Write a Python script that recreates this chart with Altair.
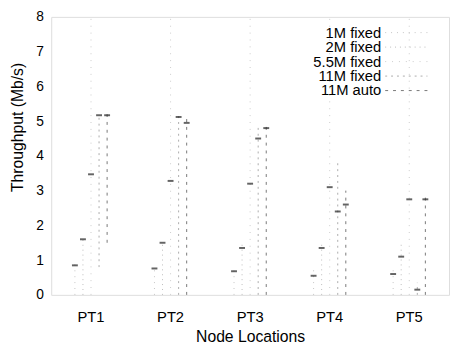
import altair as alt
import pandas as pd

locations = ["PT1", "PT2", "PT3", "PT4", "PT5"]
series = ["1M fixed", "2M fixed", "5.5M fixed", "11M fixed", "11M auto"]

# mean / low / high throughput (Mb/s) per location PT1..PT5
mean_1m = [0.85, 0.76, 0.68, 0.55, 0.60]
low_1m = [0.0, 0.0, 0.0, 0.0, 0.0]
high_1m = [0.90, 0.80, 0.70, 0.75, 0.72]

mean_2m = [1.60, 1.50, 1.35, 1.35, 1.10]
low_2m = [0.0, 0.0, 0.0, 0.0, 0.0]
high_2m = [1.65, 1.55, 1.45, 1.45, 1.45]

mean_55m = [3.47, 3.28, 3.20, 3.10, 2.75]
low_55m = [0.0, 0.0, 0.0, 0.0, 0.0]
high_55m = [8.0, 8.0, 8.0, 8.0, 8.0]

mean_11f = [5.17, 5.12, 4.50, 2.40, 0.15]
low_11f = [0.80, 0.0, 0.0, 0.0, 0.0]
high_11f = [5.20, 5.15, 4.85, 3.90, 0.35]

mean_11a = [5.17, 4.95, 4.80, 2.60, 2.75]
low_11a = [1.50, 0.0, 0.0, 0.0, 0.0]
high_11a = [5.20, 5.10, 4.95, 3.00, 2.80]

y_ticks = [0, 1, 2, 3, 4, 5, 6, 7, 8]

means = [mean_1m, mean_2m, mean_55m, mean_11f, mean_11a]
lows = [low_1m, low_2m, low_55m, low_11f, low_11a]
highs = [high_1m, high_2m, high_55m, high_11f, high_11a]

rows = []
for s, ms, ls, hs in zip(series, means, lows, highs):
    for loc, m, lo, hi in zip(locations, ms, ls, hs):
        rows.append({"location": loc, "series": s, "mean": m, "low": lo, "high": hi})
df = pd.DataFrame(rows)
legend_df = pd.DataFrame({"series": series})

FONT = "Liberation Sans"
colors = ["#c4c4c4", "#bcbcbc", "#cccccc", "#ababab", "#777777"]
dashes = [[1, 5], [1, 4], [1, 6], [2, 4], [3, 5]]

color_enc = alt.Color("series:N", sort=series,
                      scale=alt.Scale(domain=series, range=colors), legend=None)
dash_enc = alt.StrokeDash("series:N", sort=series,
                          scale=alt.Scale(domain=series, range=dashes), legend=None)

y_axis = alt.Axis(
    title="Throughput (Mb/s)", values=y_ticks, ticks=False, domain=False,
    grid=False, labelPadding=8, labelFont=FONT, labelFontSize=14,
    labelColor="#000", labelOverlap=False, titleFont=FONT, titleFontSize=16,
    titleFontWeight="normal", titleColor="#000", titleX=-26, titleY=112,
)
y_scale = alt.Scale(domain=[0, 8], nice=False)

base = alt.Chart(df).encode(
    x=alt.X(
        "location:N", sort=locations,
        scale=alt.Scale(paddingInner=0, paddingOuter=0),
        axis=alt.Axis(
            title="Node Locations", labelAngle=0, ticks=False, tickSize=0,
            domain=False, labelPadding=15, labelFont=FONT, labelFontSize=15,
            labelColor="#000", titleFont=FONT, titleFontSize=16,
            titleFontWeight="normal", titleColor="#000", titleY=47,
            titleBaseline="alphabetic",
        ),
    ),
    xOffset=alt.XOffset("series:N", sort=series, scale=alt.Scale(range=[20, 61])),
)

rules = base.mark_rule(strokeWidth=1).encode(
    y=alt.Y("low:Q", scale=y_scale, axis=y_axis),
    y2="high:Q",
    color=color_enc,
    strokeDash=dash_enc,
)

marks = base.mark_tick(orient="horizontal", color="#222", size=6, thickness=2).encode(
    y=alt.Y("mean:Q", scale=y_scale, axis=y_axis)
)

legend_y = alt.Y("series:N", sort=series, axis=None,
                 scale=alt.Scale(type="point", domain=series, range=[16, 75], padding=0))

legend_text = alt.Chart(legend_df).mark_text(
    align="right", baseline="middle", font=FONT, fontSize=15, color="#000"
).encode(x=alt.value(336), y=legend_y, text="series:N")

legend_line = alt.Chart(legend_df).mark_rule(strokeWidth=1).encode(
    x=alt.value(340), x2=alt.value(383), y=legend_y,
    color=color_enc, strokeDash=dash_enc,
)

legend_layer = alt.layer(legend_text, legend_line)

chart = (
    alt.layer(alt.layer(rules, marks), legend_layer)
    .resolve_scale(y="independent")
    .properties(
        width=405, height=283,
        autosize=alt.AutoSizeParams(type="none"),
        padding={"left": 44, "top": 6, "right": 2, "bottom": 50},
    )
    .configure_view(stroke="#777", strokeDash=[2, 4], strokeWidth=1)
    .configure(background="white")
)

chart.save("out.html", embed_options={"renderer": "svg", "actions": False})
